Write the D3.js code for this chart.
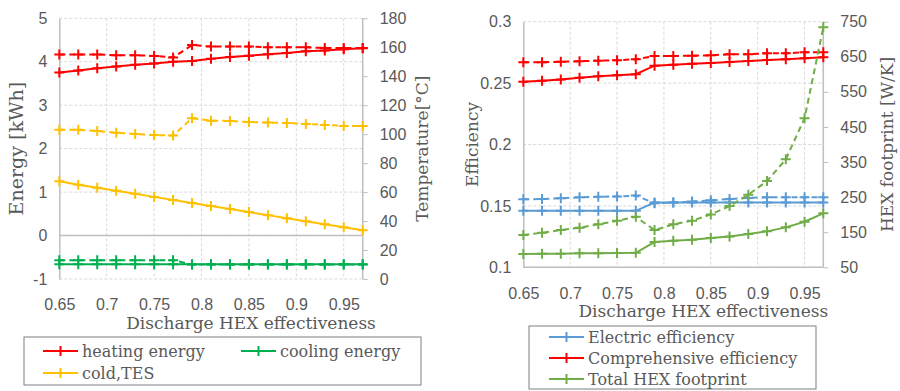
<!DOCTYPE html>
<html>
<head>
<meta charset="utf-8">
<script src="https://cdn.jsdelivr.net/npm/d3@7"></script>
<style>
  body { margin: 0; background: #fff; }
  svg { font-family: "DejaVu Serif", serif; }
  .tick text { fill: #595959; }
</style>
</head>
<body>
<svg id="chart" width="900" height="391"></svg>
<script>

// discharge HEX effectiveness (x values shared by both panels)
const effectiveness = [0.65, 0.67, 0.69, 0.71, 0.73, 0.75, 0.77, 0.79, 0.81, 0.83, 0.85, 0.87, 0.89, 0.91, 0.93, 0.95, 0.97] ;

// left panel : energy [kWh] (solid) and temperature [C] (dashed)
const heatingEnergy = [3.75, 3.80, 3.85, 3.89, 3.93, 3.96, 4.00, 4.02, 4.07, 4.11, 4.14, 4.17, 4.20, 4.24, 4.26, 4.29, 4.31] ;
const coolingEnergy = [-0.66, -0.66, -0.66, -0.66, -0.66, -0.66, -0.66, -0.66, -0.66, -0.66, -0.66, -0.66, -0.66, -0.66, -0.66, -0.66, -0.66] ;
const coldTES       = [1.25, 1.17, 1.10, 1.03, 0.96, 0.89, 0.82, 0.75, 0.68, 0.61, 0.54, 0.47, 0.40, 0.33, 0.26, 0.19, 0.12] ;
const heatingTemp   = [155, 155, 155, 154.5, 154.5, 154, 153, 161.5, 160.5, 160.5, 160.5, 160, 160, 160, 159.5, 159.5, 159.5] ;
const coolingTemp   = [13, 13, 13, 13, 13, 13, 13, 10, 10, 10, 10, 10, 10, 10, 10, 10, 10] ;
const coldTESTemp   = [103, 103, 102.2, 101, 100.1, 99.4, 99, 111, 109.3, 109.1, 108.4, 108, 107.7, 107, 106.4, 105.7, 105.7] ;

// right panel : efficiency (left axis) and HEX footprint [W/K] (right axis)
const electricEff      = [0.146, 0.146, 0.146, 0.146, 0.146, 0.146, 0.146, 0.1527, 0.1527, 0.1527, 0.1528, 0.1528, 0.1528, 0.1528, 0.1528, 0.1528, 0.1528] ;
const electricEff2     = [0.1554, 0.1556, 0.1562, 0.157, 0.1574, 0.1577, 0.1584, 0.1522, 0.1527, 0.1535, 0.1545, 0.1556, 0.1565, 0.157, 0.157, 0.157, 0.157] ;
const comprehensiveEff = [0.251, 0.252, 0.253, 0.2544, 0.2555, 0.2564, 0.2572, 0.2642, 0.265, 0.2658, 0.2664, 0.2672, 0.268, 0.2688, 0.2694, 0.2702, 0.271] ;
const comprehensiveEff2= [0.2669, 0.2669, 0.2674, 0.2678, 0.2683, 0.2686, 0.2694, 0.2721, 0.2721, 0.2723, 0.2726, 0.2735, 0.2735, 0.2743, 0.2743, 0.2751, 0.2751] ;
const hexFootprint     = [87.7, 88.6, 88.6, 89.7, 89.7, 90.6, 91.4, 121.9, 125.6, 128.5, 133.3, 138, 144.7, 152.4, 163.8, 179.8, 203.7] ;
const hexFootprint2    = [141.9, 148.4, 156, 162.7, 172.4, 182.6, 194, 156, 172.4, 182.6, 200.8, 224.5, 257, 295.8, 357.7, 474.6, 734] ;

// ticks
const xTicks = [0.65, 0.7, 0.75, 0.8, 0.85, 0.9, 0.95] ;
const energyTicks = [-1, 0, 1, 2, 3, 4, 5] ;
const tempTicks = [0, 20, 40, 60, 80, 100, 120, 140, 160, 180] ;
const effTicks = [0.1, 0.15, 0.2, 0.25, 0.3] ;
const footTicks = [50, 150, 250, 350, 450, 550, 650, 750] ;

const RED = "#ff0000", GREEN = "#00b050", YELLOW = "#ffc000", BLUE = "#5b9bd5", LGREEN = "#70ad47" ;
const TEXT = "#595959", AXIS = "#bfbfbf", GRID = "#d9d9d9" ;

const svg = d3.select("#chart") ;

function fmt(d) { return String(d) ; }

/*
	draw one panel: grid, axes, lines with "+" markers
*/
function drawPanel(p) {
	const g = svg.append("g") ;
	const x = d3.scaleLinear().domain([0.65, 0.97]).range([p.left, p.right]) ;
	const yL = d3.scaleLinear().domain(p.yLDomain).range([p.bottom, p.top]) ;
	const yR = d3.scaleLinear().domain(p.yRDomain).range([p.bottom, p.top]) ;

	// grid
	g.append("g").selectAll("line")
		.data(xTicks.slice(1).concat([0.97]))
		.enter().append("line")
		.attr("x1", d => x(d)).attr("x2", d => x(d))
		.attr("y1", p.top).attr("y2", p.bottom)
		.attr("stroke", GRID).attr("stroke-dasharray", "3,2") ;
	g.append("g").selectAll("line")
		.data(p.yLTicks)
		.enter().append("line")
		.attr("x1", p.left).attr("x2", p.right)
		.attr("y1", d => yL(d)).attr("y2", d => yL(d))
		.attr("stroke", GRID).attr("stroke-dasharray", "3,2") ;

	// axes
	const axL = g.append("g").attr("transform", `translate(${p.left},0)`)
		.call(d3.axisLeft(yL).tickValues(p.yLTicks).tickSize(0).tickPadding(12).tickFormat(fmt)) ;
	const axR = g.append("g").attr("transform", `translate(${p.right},0)`)
		.call(d3.axisRight(yR).tickValues(p.yRTicks).tickSize(5).tickPadding(12).tickFormat(fmt)) ;
	const axX = g.append("g").attr("transform", `translate(0,${p.bottom})`)
		.call(d3.axisBottom(x).tickValues(xTicks).tickSize(0).tickPadding(20).tickFormat(fmt)) ;
	[axL, axR, axX].forEach(a => {
		a.select(".domain").attr("stroke", AXIS).attr("stroke-width", 1.5) ;
		a.selectAll(".tick line").attr("stroke", AXIS) ;
		a.selectAll(".tick text").style("font-size", "16px").attr("fill", TEXT) ;
	}) ;
	axX.select(".domain").remove() ;
	axR.select(".domain").attr("d", `M0,${p.top}V${p.bottom}`) ;
	g.append("line")
		.attr("x1", p.left).attr("x2", p.right)
		.attr("y1", yL(p.xCross)).attr("y2", yL(p.xCross))
		.attr("stroke", AXIS).attr("stroke-width", 1.5) ;

	// titles
	g.append("text")
		.attr("x", (p.left + p.right) / 2 + p.xTitleShift).attr("y", p.bottom + p.xTitleOffset)
		.attr("text-anchor", "middle").attr("fill", TEXT).style("font-size", "17px")
		.text("Discharge HEX effectiveness") ;
	g.append("text")
		.attr("transform", `translate(${p.yLTitleX},${(p.top + p.bottom) / 2}) rotate(-90)`)
		.attr("text-anchor", "middle").attr("fill", TEXT).style("font-size", p.yLTitleSize)
		.text(p.yLTitle) ;
	g.append("text")
		.attr("transform", `translate(${p.yRTitleX},${(p.top + p.bottom) / 2}) rotate(-90)`)
		.attr("text-anchor", "middle").attr("fill", TEXT).style("font-size", "17px")
		.text(p.yRTitle) ;

	// series
	p.series.forEach(s => {
		const y = s.axis === "R" ? yR : yL ;
		const pts = effectiveness.map((e, i) => [x(e), y(s.values[i])]) ;
		g.append("path")
			.attr("d", d3.line()(pts))
			.attr("fill", "none").attr("stroke", s.color).attr("stroke-width", 2)
			.attr("stroke-dasharray", s.dashed ? "6,4" : null) ;
		g.append("g").selectAll("path")
			.data(pts)
			.enter().append("path")
			.attr("d", d => `M${d[0] - 5},${d[1]}H${d[0] + 5}M${d[0]},${d[1] - 5}V${d[1] + 5}`)
			.attr("stroke", s.color).attr("stroke-width", 2) ;
	}) ;
}

function legendItem(g, x, y, color, label) {
	g.append("line").attr("x1", x).attr("x2", x + 35).attr("y1", y).attr("y2", y)
		.attr("stroke", color).attr("stroke-width", 2) ;
	g.append("path").attr("d", `M${x + 12.5},${y}H${x + 22.5}M${x + 17.5},${y - 5}V${y + 5}`)
		.attr("stroke", color).attr("stroke-width", 2) ;
	g.append("text").attr("x", x + 39).attr("y", y).attr("dy", "0.35em")
		.attr("fill", TEXT).style("font-size", "16px").text(label) ;
}

drawPanel({
	left: 59.3, right: 362.7, top: 18.3, bottom: 279,
	yLDomain: [-1, 5], yRDomain: [0, 180], yLTicks: energyTicks, yRTicks: tempTicks, xCross: 0,
	xTitleShift: 40, xTitleOffset: 50,
	yLTitle: "Energy [kWh]", yLTitleX: 23, yLTitleSize: "19px", yRTitle: "Temperature[°C]", yRTitleX: 428,
	series: [
		{ values: heatingEnergy, color: RED },
		{ values: heatingTemp, color: RED, dashed: true, axis: "R" },
		{ values: coolingEnergy, color: GREEN },
		{ values: coolingTemp, color: GREEN, dashed: true, axis: "R" },
		{ values: coldTES, color: YELLOW },
		{ values: coldTESTemp, color: YELLOW, dashed: true, axis: "R" }
	]
}) ;

drawPanel({
	left: 523.3, right: 823.3, top: 21.7, bottom: 267.3,
	yLDomain: [0.1, 0.3], yRDomain: [50, 750], yLTicks: effTicks, yRTicks: footTicks, xCross: 0.1,
	xTitleShift: 30, xTitleOffset: 50,
	yLTitle: "Efficiency", yLTitleX: 478, yLTitleSize: "17px", yRTitle: "HEX footprint [W/K]", yRTitleX: 893,
	series: [
		{ values: electricEff, color: BLUE },
		{ values: electricEff2, color: BLUE, dashed: true },
		{ values: comprehensiveEff, color: RED },
		{ values: comprehensiveEff2, color: RED, dashed: true },
		{ values: hexFootprint, color: LGREEN, axis: "R" },
		{ values: hexFootprint2, color: LGREEN, dashed: true, axis: "R" }
	]
}) ;

// legends
const lg1 = svg.append("g") ;
lg1.append("rect").attr("x", 24).attr("y", 337).attr("width", 397).attr("height", 48)
	.attr("fill", "#fff").attr("stroke", "#7f7f7f") ;
legendItem(lg1, 43, 351, RED, "heating energy") ;
legendItem(lg1, 241, 351, GREEN, "cooling energy") ;
legendItem(lg1, 43, 373, YELLOW, "cold,TES") ;

const lg2 = svg.append("g") ;
lg2.append("rect").attr("x", 529).attr("y", 326).attr("width", 287).attr("height", 63)
	.attr("fill", "#fff").attr("stroke", "#7f7f7f") ;
legendItem(lg2, 549, 337, BLUE, "Electric efficiency") ;
legendItem(lg2, 549, 358, RED, "Comprehensive efficiency") ;
legendItem(lg2, 549, 379, LGREEN, "Total HEX footprint") ;

</script>
</body>
</html>
